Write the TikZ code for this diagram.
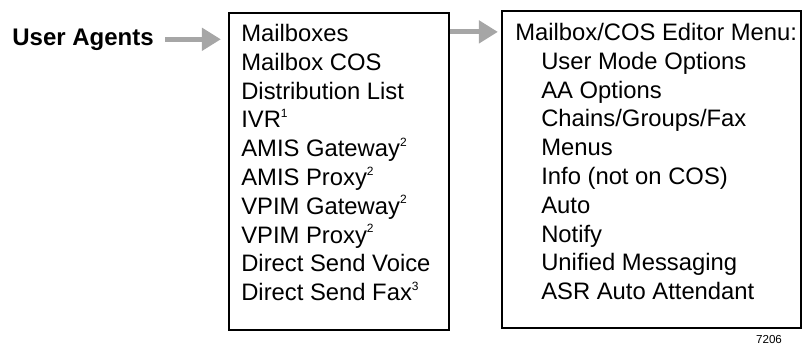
\documentclass[tikz,border=0pt]{standalone}
\usepackage{fontspec}
\setmainfont{Liberation Sans}
\usetikzlibrary{arrows.meta, positioning}
\definecolor{arrowgray}{gray}{0.65}
\newcommand{\fnote}[1]{\raisebox{5.2pt}{\fontsize{6}{6}\selectfont #1}}
\newcommand{\sublevel}{\hspace*{13pt}}

\begin{document}
\begin{tikzpicture}[
    x=0.5pt, y=-0.5pt,
    listbox/.style={rectangle, draw, line width=1.1pt, minimum height=158.5pt, inner sep=0pt},
    listtext/.style={align=left, inner sep=0pt, font=\fontsize{11.9}{14.4}\selectfont},
    arrow/.style={line width=2.5pt, arrowgray, -{Triangle[length=9.5pt, width=11pt]}}
]
\useasboundingbox (0,0) rectangle (803,343);

% Boxes
\node (mbox) [listbox, minimum width=110pt] at (339,171.5) {};
\node (menubox) [listbox, minimum width=149.5pt] at (651.5,169.5) {};

% Texts
\node (ua) [anchor=base west, inner sep=0pt, font=\fontsize{12}{14}\selectfont\bfseries] at (12,45) {User Agents};
\node (mlist) [listtext, below right=6pt and 6.5pt of mbox.north west] {Mailboxes\\
Mailbox COS\\
Distribution List\\
IVR\fnote{1}\\
AMIS Gateway\fnote{2}\\
AMIS Proxy\fnote{2}\\
VPIM Gateway\fnote{2}\\
VPIM Proxy\fnote{2}\\
Direct Send Voice\\
Direct Send Fax\fnote{3}};
\node (menulist) [listtext, below right=6.5pt and 7pt of menubox.north west] {Mailbox/COS Editor Menu:\\
\sublevel User Mode Options\\
\sublevel AA Options\\
\sublevel Chains/Groups/Fax\\
\sublevel Menus\\
\sublevel Info (not on COS)\\
\sublevel Auto\\
\sublevel Notify\\
\sublevel Unified Messaging\\
\sublevel ASR Auto Attendant};
\node (fignum) [anchor=base, font=\fontsize{5.8}{6}\selectfont] at (769,343.5) {7206};

% Arrows
\draw [arrow, shorten <=5.5pt, shorten >=3.5pt] (ua.east) -- (ua.east -| mbox.west);
\draw [arrow, shorten >=1.5pt] ([yshift=-4.5pt]menulist.north -| mbox.east) -- ([yshift=-4.5pt]menulist.north -| menubox.west);

\end{tikzpicture}
\end{document}
